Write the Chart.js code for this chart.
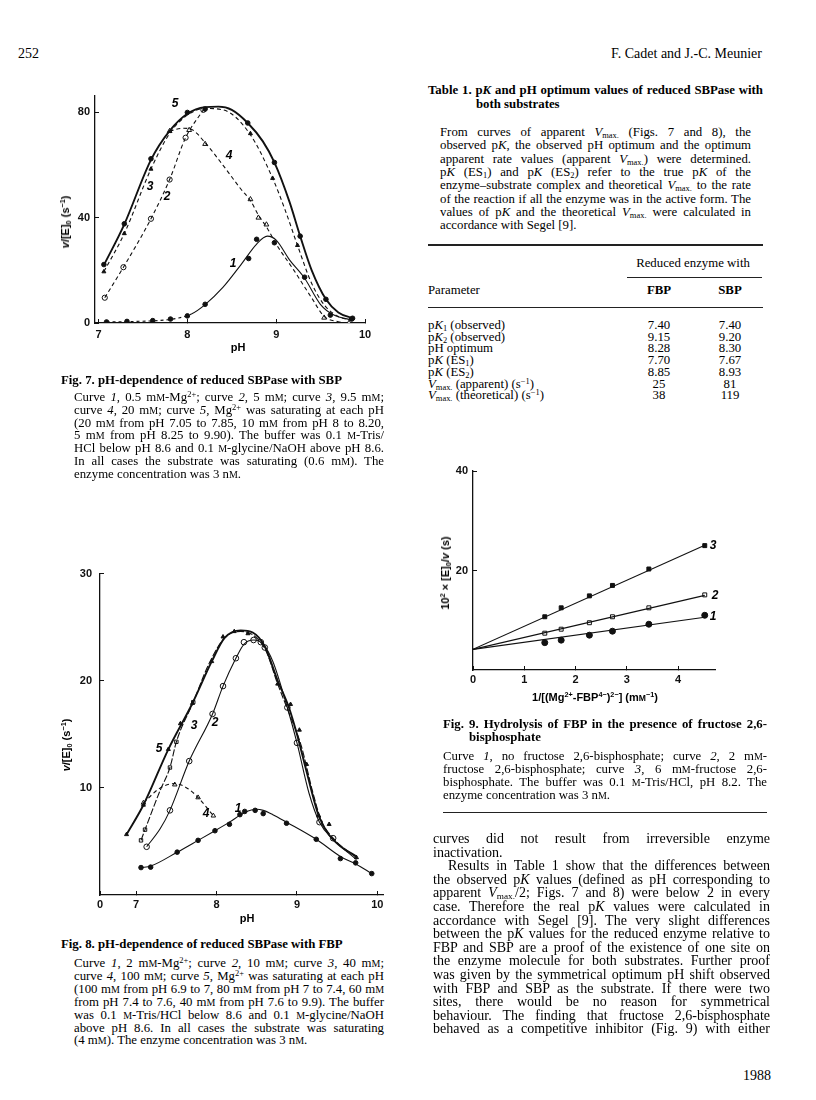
<!DOCTYPE html>
<html><head><meta charset="utf-8">
<script src="https://cdn.jsdelivr.net/npm/chart.js@4.4.0/dist/chart.umd.min.js"></script>
<style>
html,body{margin:0;padding:0;background:#fff;}
#page{position:relative;width:816px;height:1100px;overflow:hidden;background:#fff;color:#000;font-family:"Liberation Serif","Times New Roman",serif;}
.t{position:absolute;white-space:nowrap;line-height:16px;height:16px;}
.j{white-space:normal;text-align:justify;text-align-last:justify;}
.cap{font-size:12.8px;}
.bd{font-size:14px;}
.tb{font-size:12.8px;}
.b{font-weight:bold;}
.s{font-size:0.78em;}
sub{font-size:0.66em;vertical-align:-0.25em;line-height:0;}
sup{font-size:0.66em;vertical-align:0.5em;line-height:0;}
.rule{position:absolute;background:#222;}
.c{position:absolute;white-space:nowrap;transform:translate(-50%,-50%);}
.sans{font-family:"Liberation Sans",Arial,sans-serif;font-size:11px;font-weight:bold;}
.lab{font-family:"Liberation Sans",Arial,sans-serif;font-style:italic;font-weight:bold;font-size:12px;}
.rot{position:absolute;white-space:nowrap;transform:translate(-50%,-50%) rotate(-90deg);}
canvas{position:absolute;}
</style>
</head>
<body>
<div id="page">
<!-- header -->
<div class="t bd" style="left:18px;top:46px;">252</div>
<div class="t bd" style="right:54px;top:46px;">F. Cadet and J.-C. Meunier</div>

<!-- Table 1 -->
<div class="t j b tb" style="left:428px;top:82px;width:335px;">Table 1. p<i>K</i> and pH optimum values of reduced SBPase with</div>
<div class="t b tb" style="left:476px;top:96px;">both substrates</div>
<div class="t j cap" style="left:440px;top:124px;width:311px;">From curves of apparent <i>V</i><sub>max.</sub> (Figs. 7 and 8), the</div>
<div class="t j cap" style="left:440px;top:137.3px;width:311px;">observed p<i>K</i>, the observed pH optimum and the optimum</div>
<div class="t j cap" style="left:440px;top:150.6px;width:311px;">apparent rate values (apparent <i>V</i><sub>max.</sub>) were determined.</div>
<div class="t j cap" style="left:440px;top:164px;width:311px;">p<i>K</i> (ES<sub>1</sub>) and p<i>K</i> (ES<sub>2</sub>) refer to the true p<i>K</i> of the</div>
<div class="t j cap" style="left:440px;top:177.3px;width:311px;">enzyme–substrate complex and theoretical <i>V</i><sub>max.</sub> to the rate</div>
<div class="t j cap" style="left:440px;top:190.6px;width:311px;">of the reaction if all the enzyme was in the active form. The</div>
<div class="t j cap" style="left:440px;top:204px;width:311px;">values of p<i>K</i> and the theoretical <i>V</i><sub>max.</sub> were calculated in</div>
<div class="t cap" style="left:440px;top:217.3px;">accordance with Segel [9].</div>
<div class="rule" style="left:428px;top:244px;width:335px;height:1.5px;"></div>
<div class="c tb" style="left:693px;top:263px;">Reduced enzyme with</div>
<div class="rule" style="left:627px;top:277px;width:135px;height:1px;"></div>
<div class="t tb" style="left:428px;top:282px;">Parameter</div>
<div class="c tb b" style="left:659px;top:290px;">FBP</div>
<div class="c tb b" style="left:730px;top:290px;">SBP</div>
<div class="rule" style="left:428px;top:306.5px;width:335px;height:1.2px;"></div>
<div class="t tb" style="left:428px;top:317px;">p<i>K</i><sub>1</sub> (observed)</div>
<div class="t tb" style="left:428px;top:328.7px;">p<i>K</i><sub>2</sub> (observed)</div>
<div class="t tb" style="left:428px;top:340.4px;">pH optimum</div>
<div class="t tb" style="left:428px;top:352.1px;">p<i>K</i> (ES<sub>1</sub>)</div>
<div class="t tb" style="left:428px;top:363.8px;">p<i>K</i> (ES<sub>2</sub>)</div>
<div class="t tb" style="left:428px;top:375.5px;"><i>V</i><sub>max.</sub> (apparent) (s<sup>−1</sup>)</div>
<div class="t tb" style="left:428px;top:387.2px;"><i>V</i><sub>max.</sub> (theoretical) (s<sup>−1</sup>)</div>
<div class="c tb" style="left:659px;top:325px;">7.40</div><div class="c tb" style="left:730px;top:325px;">7.40</div>
<div class="c tb" style="left:659px;top:336.7px;">9.15</div><div class="c tb" style="left:730px;top:336.7px;">9.20</div>
<div class="c tb" style="left:659px;top:348.4px;">8.28</div><div class="c tb" style="left:730px;top:348.4px;">8.30</div>
<div class="c tb" style="left:659px;top:360.1px;">7.70</div><div class="c tb" style="left:730px;top:360.1px;">7.67</div>
<div class="c tb" style="left:659px;top:371.8px;">8.85</div><div class="c tb" style="left:730px;top:371.8px;">8.93</div>
<div class="c tb" style="left:659px;top:383.5px;">25</div><div class="c tb" style="left:730px;top:383.5px;">81</div>
<div class="c tb" style="left:659px;top:395.2px;">38</div><div class="c tb" style="left:730px;top:395.2px;">119</div>

<!-- Fig 7 -->
<canvas id="f7" width="350" height="280" style="left:40px;top:80px;"></canvas>
<div class="rot sans" style="left:65px;top:222px;"><i>v</i>/[E]<sub>0</sub> (s<sup>−1</sup>)</div>
<div class="c sans" style="left:238px;top:347px;">pH</div>
<div class="c lab" style="left:175px;top:103px;">5</div>
<div class="c lab" style="left:150px;top:186px;">3</div>
<div class="c lab" style="left:167px;top:196px;">2</div>
<div class="c lab" style="left:229px;top:155px;">4</div>
<div class="c lab" style="left:233px;top:263px;">1</div>
<div class="t b cap" style="left:61px;top:372px;">Fig. 7. pH-dependence of reduced SBPase with SBP</div>
<div class="t j cap" style="left:74px;top:389px;width:310px;">Curve <i>1</i>, 0.5 m<span class="s">M</span>-Mg<sup>2+</sup>; curve <i>2</i>, 5 m<span class="s">M</span>; curve <i>3</i>, 9.5 m<span class="s">M</span>;</div>
<div class="t j cap" style="left:74px;top:401.8px;width:310px;">curve <i>4</i>, 20 m<span class="s">M</span>; curve <i>5</i>, Mg<sup>2+</sup> was saturating at each pH</div>
<div class="t j cap" style="left:74px;top:414.6px;width:310px;">(20 m<span class="s">M</span> from pH 7.05 to 7.85, 10 m<span class="s">M</span> from pH 8 to 8.20,</div>
<div class="t j cap" style="left:74px;top:427.4px;width:310px;">5 m<span class="s">M</span> from pH 8.25 to 9.90). The buffer was 0.1 <span class="s">M</span>-Tris/</div>
<div class="t j cap" style="left:74px;top:440.2px;width:310px;">HCl below pH 8.6 and 0.1 <span class="s">M</span>-glycine/NaOH above pH 8.6.</div>
<div class="t j cap" style="left:74px;top:453px;width:310px;">In all cases the substrate was saturating (0.6 m<span class="s">M</span>). The</div>
<div class="t cap" style="left:74px;top:465.8px;">enzyme concentration was 3 n<span class="s">M</span>.</div>

<!-- Fig 8 -->
<canvas id="f8" width="360" height="365" style="left:40px;top:555px;"></canvas>
<div class="rot sans" style="left:66px;top:745px;"><i>v</i>/[E]<sub>0</sub> (s<sup>−1</sup>)</div>
<div class="c sans" style="left:247px;top:918px;">pH</div>
<div class="c lab" style="left:159px;top:748px;">5</div>
<div class="c lab" style="left:194px;top:725px;">3</div>
<div class="c lab" style="left:215px;top:722px;">2</div>
<div class="c lab" style="left:206px;top:813px;">4</div>
<div class="c lab" style="left:238px;top:808px;">1</div>
<div class="t b cap" style="left:61px;top:936px;">Fig. 8. pH-dependence of reduced SBPase with FBP</div>
<div class="t j cap" style="left:74px;top:955px;width:310px;">Curve <i>1</i>, 2 m<span class="s">M</span>-Mg<sup>2+</sup>; curve <i>2</i>, 10 m<span class="s">M</span>; curve <i>3</i>, 40 m<span class="s">M</span>;</div>
<div class="t j cap" style="left:74px;top:967.9px;width:310px;">curve <i>4</i>, 100 m<span class="s">M</span>; curve <i>5</i>, Mg<sup>2+</sup> was saturating at each pH</div>
<div class="t j cap" style="left:74px;top:980.8px;width:310px;">(100 m<span class="s">M</span> from pH 6.9 to 7, 80 m<span class="s">M</span> from pH 7 to 7.4, 60 m<span class="s">M</span></div>
<div class="t j cap" style="left:74px;top:993.7px;width:310px;">from pH 7.4 to 7.6, 40 m<span class="s">M</span> from pH 7.6 to 9.9). The buffer</div>
<div class="t j cap" style="left:74px;top:1006.6px;width:310px;">was 0.1 <span class="s">M</span>-Tris/HCl below 8.6 and 0.1 <span class="s">M</span>-glycine/NaOH</div>
<div class="t j cap" style="left:74px;top:1019.5px;width:310px;">above pH 8.6. In all cases the substrate was saturating</div>
<div class="t cap" style="left:74px;top:1032.4px;">(4 m<span class="s">M</span>). The enzyme concentration was 3 n<span class="s">M</span>.</div>

<!-- Fig 9 -->
<canvas id="f9" width="330" height="240" style="left:420px;top:455px;"></canvas>
<div class="rot sans" style="left:445px;top:573px;">10<sup>2</sup> × [E]<sub>0</sub>/<i>v</i> (s)</div>
<div class="c sans" style="left:595px;top:697px;">1/[(Mg<sup>2+</sup>-FBP<sup>4−</sup>)<sup>2−</sup>] (m<span class="s">M</span><sup>−1</sup>)</div>
<div class="c lab" style="left:713px;top:545px;">3</div>
<div class="c lab" style="left:715px;top:595px;">2</div>
<div class="c lab" style="left:713px;top:616px;">1</div>
<div class="t j b cap" style="left:443px;top:716px;width:324px;">Fig. 9. Hydrolysis of FBP in the presence of fructose 2,6-</div>
<div class="t b cap" style="left:469px;top:729px;">bisphosphate</div>
<div class="t j cap" style="left:443px;top:748px;width:324px;">Curve <i>1</i>, no fructose 2,6-bisphosphate; curve <i>2</i>, 2 m<span class="s">M</span>-</div>
<div class="t j cap" style="left:443px;top:761px;width:324px;">fructose 2,6-bisphosphate; curve <i>3</i>, 6 m<span class="s">M</span>-fructose 2,6-</div>
<div class="t j cap" style="left:443px;top:774px;width:324px;">bisphosphate. The buffer was 0.1 <span class="s">M</span>-Tris/HCl, pH 8.2. The</div>
<div class="t cap" style="left:443px;top:787px;">enzyme concentration was 3 n<span class="s">M</span>.</div>
<div class="rule" style="left:443px;top:812px;width:324px;height:1.3px;"></div>

<!-- body text -->
<div class="t j bd" style="left:433px;top:831px;width:337px;">curves did not result from irreversible enzyme</div>
<div class="t bd" style="left:433px;top:844.6px;">inactivation.</div>
<div class="t j bd" style="left:448px;top:858.2px;width:322px;">Results in Table 1 show that the differences between</div>
<div class="t j bd" style="left:433px;top:871.8px;width:337px;">the observed p<i>K</i> values (defined as pH corresponding to</div>
<div class="t j bd" style="left:433px;top:885.4px;width:337px;">apparent <i>V</i><sub>max.</sub>/2; Figs. 7 and 8) were below 2 in every</div>
<div class="t j bd" style="left:433px;top:899px;width:337px;">case. Therefore the real p<i>K</i> values were calculated in</div>
<div class="t j bd" style="left:433px;top:912.6px;width:337px;">accordance with Segel [9]. The very slight differences</div>
<div class="t j bd" style="left:433px;top:926.2px;width:337px;">between the p<i>K</i> values for the reduced enzyme relative to</div>
<div class="t j bd" style="left:433px;top:939.8px;width:337px;">FBP and SBP are a proof of the existence of one site on</div>
<div class="t j bd" style="left:433px;top:953.4px;width:337px;">the enzyme molecule for both substrates. Further proof</div>
<div class="t j bd" style="left:433px;top:967px;width:337px;">was given by the symmetrical optimum pH shift observed</div>
<div class="t j bd" style="left:433px;top:980.6px;width:337px;">with FBP and SBP as the substrate. If there were two</div>
<div class="t j bd" style="left:433px;top:994.2px;width:337px;">sites, there would be no reason for symmetrical</div>
<div class="t j bd" style="left:433px;top:1007.8px;width:337px;">behaviour. The finding that fructose 2,6-bisphosphate</div>
<div class="t j bd" style="left:433px;top:1021.4px;width:337px;">behaved as a competitive inhibitor (Fig. 9) with either</div>
<div class="t bd" style="right:45px;top:1068px;">1988</div>
</div>

<script>
// ================= DATA =================
// Fig. 7 — pH-dependence with SBP; v/[E]0 (s^-1)
const F7_X_TICKS = [7, 8, 9, 10];
const F7_X_LABELS = ['7', '8', '9', '10'];
const F7_Y_TICKS = [0, 40, 80];
// curve 1 (0.5 mM Mg2+)
const F7_C1_PH  = [7.09, 7.32, 7.61, 7.81, 8.00, 8.20, 8.69, 8.78, 8.98, 9.32, 9.61, 9.85];
const F7_C1_V   = [0.4, 0.6, 0.9, 1.5, 2.7, 7.1, 24.5, 31.8, 30.5, 17.4, 3.0, 1.5];
const F7_C1_CURVE_PH = [7.09, 7.40, 7.70, 7.90, 8.05, 8.20, 8.40, 8.60, 8.78, 8.90, 9.00, 9.15, 9.32, 9.50, 9.65, 9.85];
const F7_C1_CURVE_V  = [0.4, 0.6, 1.0, 1.9, 3.5, 7.0, 13.5, 22.0, 30.0, 33.0, 31.5, 24.0, 17.0, 7.0, 3.0, 1.2];
// curve 2 (5 mM)
const F7_C2_PH  = [7.07, 7.28, 7.59, 7.80, 7.98, 8.18];
const F7_C2_V   = [9.6, 21.2, 39.6, 54.5, 70.4, 81.0];
// curve 3 (9.5 mM)
const F7_C3_PH  = [7.06, 7.29, 7.59, 8.71, 8.96, 9.24];
const F7_C3_V   = [19.5, 34.0, 58.5, 72.0, 55.0, 29.5];
const F7_C3_CURVE_PH = [7.06, 7.29, 7.59, 7.80, 8.00, 8.20, 8.40, 8.70, 8.96, 9.10, 9.24, 9.40, 9.55, 9.70, 9.85];
const F7_C3_CURVE_V  = [19.5, 34.0, 58.5, 72.0, 79.0, 81.5, 81.0, 72.0, 55.0, 43.0, 29.5, 15.0, 6.5, 2.5, 1.0];
// curve 4 (20 mM)
const F7_C4_PH  = [7.80, 8.02, 8.20, 8.71, 8.80, 8.89, 9.54, 9.82];
const F7_C4_V   = [72.9, 73.3, 68.0, 47.0, 40.0, 37.4, 2.0, 0.0];
const F7_C4_CURVE_PH = [7.80, 7.95, 8.05, 8.20, 8.40, 8.60, 8.71, 8.80, 8.90, 9.00, 9.20, 9.40, 9.54, 9.70, 9.82];
const F7_C4_CURVE_V  = [72.9, 74.0, 73.5, 68.5, 60.0, 51.0, 46.5, 41.0, 36.0, 30.0, 20.0, 9.5, 2.5, 0.5, 0.0];
// curve 5 (saturating Mg2+)
const F7_C5_PH  = [7.06, 7.29, 7.59, 8.00, 8.20, 8.68, 8.98, 9.27, 9.56, 9.86];
const F7_C5_V   = [22.2, 37.7, 62.4, 80.0, 81.3, 76.0, 61.0, 33.0, 9.0, 1.8];
const F7_C5_CURVE_PH = [7.06, 7.29, 7.59, 7.80, 8.00, 8.20, 8.35, 8.50, 8.68, 8.85, 8.98, 9.15, 9.27, 9.40, 9.56, 9.70, 9.86];
const F7_C5_CURVE_V  = [22.0, 37.5, 62.0, 73.0, 79.5, 82.0, 82.2, 81.0, 76.0, 69.0, 61.0, 46.0, 33.0, 20.0, 9.0, 4.0, 1.8];

// Fig. 8 — pH-dependence with FBP; v/[E]0 (s^-1)
const F8_X_TICKS = [6.55, 7, 8, 9, 10];
const F8_X_LABELS = ['0', '7', '8', '9', '10'];
const F8_Y_TICKS = [10, 20, 30];
const F8_C1_PH = [7.06, 7.18, 7.51, 7.77, 7.98, 8.16, 8.29, 8.35, 8.48, 8.58, 8.87, 9.24, 9.54, 9.73, 9.93];
const F8_C1_V  = [2.56, 2.6, 4.0, 5.1, 6.0, 6.6, 7.5, 7.8, 7.9, 7.6, 6.7, 5.2, 3.4, 3.0, 2.0];
const F8_C1_CURVE_PH = [7.06, 7.18, 7.51, 7.77, 7.98, 8.16, 8.35, 8.50, 8.58, 8.70, 8.87, 9.24, 9.54, 9.73, 9.93];
const F8_C1_CURVE_V  = [2.56, 2.7, 4.0, 5.1, 6.0, 6.8, 7.7, 8.0, 7.9, 7.5, 6.8, 5.2, 3.6, 2.9, 2.0];
const F8_C2_PH = [7.13, 7.42, 7.66, 7.95, 8.08, 8.24, 8.34, 8.46, 8.55, 8.60, 8.88, 9.00, 9.28, 9.45];
const F8_C2_V  = [4.5, 7.9, 12.5, 16.9, 19.5, 22.1, 23.6, 23.8, 23.6, 23.1, 17.5, 14.2, 6.8, 5.3];
const F8_C2_CURVE_PH = [7.13, 7.30, 7.42, 7.66, 7.95, 8.08, 8.24, 8.34, 8.46, 8.58, 8.70, 8.88, 9.00, 9.15, 9.28, 9.45, 9.74];
const F8_C2_CURVE_V  = [4.5, 6.2, 7.9, 12.5, 16.9, 19.5, 22.1, 23.4, 23.8, 23.4, 21.8, 17.5, 14.2, 9.5, 6.8, 5.2, 3.3];
const F8_C3_PH = [7.06, 7.11, 7.42, 7.50, 7.71];
const F8_C3_V  = [5.1, 6.1, 11.9, 14.3, 18.0];
const F8_C3_CURVE_PH = [7.06, 7.11, 7.30, 7.42, 7.50, 7.71, 7.90, 8.10, 8.30, 8.60, 8.76, 8.90, 9.05, 9.20, 9.30, 9.45, 9.74];
const F8_C3_CURVE_V  = [5.1, 6.1, 9.8, 11.9, 14.3, 18.0, 21.5, 24.0, 24.6, 23.0, 19.7, 17.0, 14.0, 9.5, 7.0, 5.3, 3.5];
const F8_C4_PH = [7.09, 7.48, 7.77, 7.96];
const F8_C4_V  = [8.6, 10.3, 9.1, 7.4];
const F8_C4_CURVE_PH = [7.09, 7.30, 7.48, 7.65, 7.77, 7.96];
const F8_C4_CURVE_V  = [8.6, 10.0, 10.4, 9.9, 9.1, 7.4];
const F8_C5_PH = [6.88, 7.09, 7.40, 7.55, 7.70, 7.94, 8.08, 8.22, 8.39, 8.76, 8.92, 9.03, 9.12, 9.27, 9.40, 9.74];
const F8_C5_V  = [5.65, 8.4, 13.6, 16.0, 17.9, 21.8, 24.1, 24.6, 24.4, 19.7, 17.8, 15.4, 12.2, 7.4, 6.6, 3.5];
const F8_C5_CURVE_PH = [6.88, 7.09, 7.40, 7.70, 7.94, 8.10, 8.30, 8.45, 8.60, 8.76, 8.90, 9.00, 9.12, 9.27, 9.40, 9.55, 9.74];
const F8_C5_CURVE_V  = [5.65, 8.4, 13.6, 17.9, 21.8, 24.0, 24.7, 24.5, 23.2, 20.0, 17.5, 15.0, 11.5, 7.4, 5.6, 4.5, 3.6];

// Fig. 9 — double reciprocal plot; x = 1/[(Mg2+-FBP4-)2-] (mM^-1), y = 10^2 x [E]0/v (s)
const F9_X_TICKS = [0, 1, 2, 3, 4];
const F9_Y_TICKS = [20, 40];
const F9_X   = [1.40, 1.72, 2.27, 2.72, 3.43, 4.52];
const F9_C1  = [5.5, 6.0, 7.0, 7.8, 9.2, 11.0];
const F9_C2  = [7.4, 8.2, 9.5, 10.7, 12.5, 15.1];
const F9_C3  = [10.7, 12.5, 14.9, 17.0, 20.3, 25.0];
const F9_LINE_X  = [0, 4.52];
const F9_LINE_C1 = [4.15, 10.6];
const F9_LINE_C2 = [4.15, 15.0];
const F9_LINE_C3 = [4.15, 25.1];

// ================= DRAWING =================
const INK = '#111';
const SANS = '"Liberation Sans", Arial, sans-serif';
function pts(xs, ys) { return xs.map((x, i) => ({x: x, y: ys[i]})); }
function curve(xs, ys, extra) {
  return Object.assign({data: pts(xs, ys), showLine: true, pointRadius: 0, borderColor: INK,
    borderWidth: 1.1, cubicInterpolationMode: 'monotone', fill: false}, extra || {});
}
function marks(xs, ys, style, filled, r) {
  return {data: pts(xs, ys), showLine: false, pointStyle: style, pointRadius: r,
    backgroundColor: filled ? INK : '#fff', borderColor: INK, borderWidth: 1};
}
function makeChart(id, o) {
  return new Chart(document.getElementById(id), {
    type: 'scatter',
    data: {datasets: o.datasets},
    options: {
      responsive: false, animation: false, devicePixelRatio: 1,
      layout: {padding: o.pad},
      plugins: {legend: {display: false}, tooltip: {enabled: false}},
      scales: {
        x: {
          type: 'linear', min: o.xMin, max: o.xMax,
          afterBuildTicks: s => { s.ticks = o.xTicks.map(v => ({value: v})); },
          afterFit: s => { s.height = o.xH; },
          ticks: {color: INK, padding: o.xPad, maxRotation: 0, autoSkip: false,
            font: {family: SANS, size: 11, weight: 'bold'},
            callback: (v, i) => o.xLabels ? o.xLabels[i] : String(v)},
          grid: {drawOnChartArea: false, drawTicks: true, tickLength: -4, color: INK, lineWidth: 1},
          border: {display: true, color: INK, width: 1.3}
        },
        y: {
          type: 'linear', min: o.yMin, max: o.yMax,
          afterBuildTicks: s => { s.ticks = o.yTicks.map(v => ({value: v})); },
          afterFit: s => { s.width = o.yW; },
          ticks: {color: INK, padding: o.yPad, autoSkip: false,
            font: {family: SANS, size: 11, weight: 'bold'},
            callback: v => String(v)},
          grid: {drawOnChartArea: false, drawTicks: true, tickLength: -4, color: INK, lineWidth: 1},
          border: {display: true, color: INK, width: 1.3}
        }
      }
    }
  });
}

const DASH = [4, 3];
makeChart('f7', {
  xMin: 6.96, xMax: 10.0, yMin: 0, yMax: 86.4,
  xTicks: F7_X_TICKS, xLabels: F7_X_LABELS, yTicks: F7_Y_TICKS,
  yW: 55, xH: 37, pad: {top: 12, right: 25, bottom: 0, left: 0}, xPad: 9.4, yPad: 9,
  datasets: [
    curve(F7_C5_CURVE_PH, F7_C5_CURVE_V, {borderWidth: 1.9}),
    curve(F7_C3_CURVE_PH, F7_C3_CURVE_V, {borderDash: DASH}),
    curve(F7_C2_PH, F7_C2_V, {borderDash: DASH}),
    curve(F7_C4_CURVE_PH, F7_C4_CURVE_V, {borderDash: DASH}),
    curve(F7_C1_CURVE_PH, F7_C1_CURVE_V, {segment: {borderDash: c => c.p1.parsed.x <= 8.06 ? [3, 3] : undefined}}),
    marks(F7_C5_PH, F7_C5_V, 'circle', true, 2.3),
    marks(F7_C3_PH, F7_C3_V, 'triangle', true, 2.3),
    marks(F7_C2_PH, F7_C2_V, 'circle', false, 2.6),
    marks(F7_C4_PH, F7_C4_V, 'triangle', false, 2.8),
    marks(F7_C1_PH, F7_C1_V, 'circle', true, 2.3)
  ]
});

makeChart('f8', {
  xMin: 6.55, xMax: 10.07, yMin: 0, yMax: 30,
  xTicks: F8_X_TICKS, xLabels: F8_X_LABELS, yTicks: F8_Y_TICKS,
  yW: 60, xH: 25, pad: {top: 16, right: 17, bottom: 0, left: 0}, xPad: 7.4, yPad: 12,
  datasets: [
    curve(F8_C5_CURVE_PH, F8_C5_CURVE_V, {borderWidth: 1.9}),
    curve(F8_C3_CURVE_PH, F8_C3_CURVE_V, {borderDash: [7, 2]}),
    curve(F8_C2_CURVE_PH, F8_C2_CURVE_V),
    curve(F8_C4_CURVE_PH, F8_C4_CURVE_V, {borderDash: DASH}),
    curve(F8_C1_CURVE_PH, F8_C1_CURVE_V),
    marks(F8_C5_PH, F8_C5_V, 'triangle', true, 2.3),
    marks(F8_C3_PH, F8_C3_V, 'rect', false, 2.4),
    marks(F8_C2_PH, F8_C2_V, 'circle', false, 2.8),
    marks(F8_C4_PH, F8_C4_V, 'triangle', false, 2.6),
    marks(F8_C1_PH, F8_C1_V, 'circle', true, 2.3)
  ]
});

makeChart('f9', {
  xMin: 0, xMax: 4.72, yMin: 0, yMax: 40,
  xTicks: F9_X_TICKS, yTicks: F9_Y_TICKS,
  yW: 53, xH: 25, pad: {top: 16, right: 35, bottom: 0, left: 0}, xPad: 7.4, yPad: 9,
  datasets: [
    curve(F9_LINE_X, F9_LINE_C3, {cubicInterpolationMode: 'default', tension: 0}),
    curve(F9_LINE_X, F9_LINE_C2, {cubicInterpolationMode: 'default', tension: 0}),
    curve(F9_LINE_X, F9_LINE_C1, {cubicInterpolationMode: 'default', tension: 0}),
    marks(F9_X, F9_C3, 'rect', true, 2.8),
    marks(F9_X, F9_C2, 'rect', false, 2.8),
    marks(F9_X, F9_C1, 'circle', true, 3)
  ]
});

// keep justified lines on one line
document.querySelectorAll('.j').forEach(el => {
  let fs = parseFloat(getComputedStyle(el).fontSize);
  while (el.scrollHeight > 18 && fs > 8) { fs -= 0.2; el.style.fontSize = fs + 'px'; }
});
</script>
</body></html>
